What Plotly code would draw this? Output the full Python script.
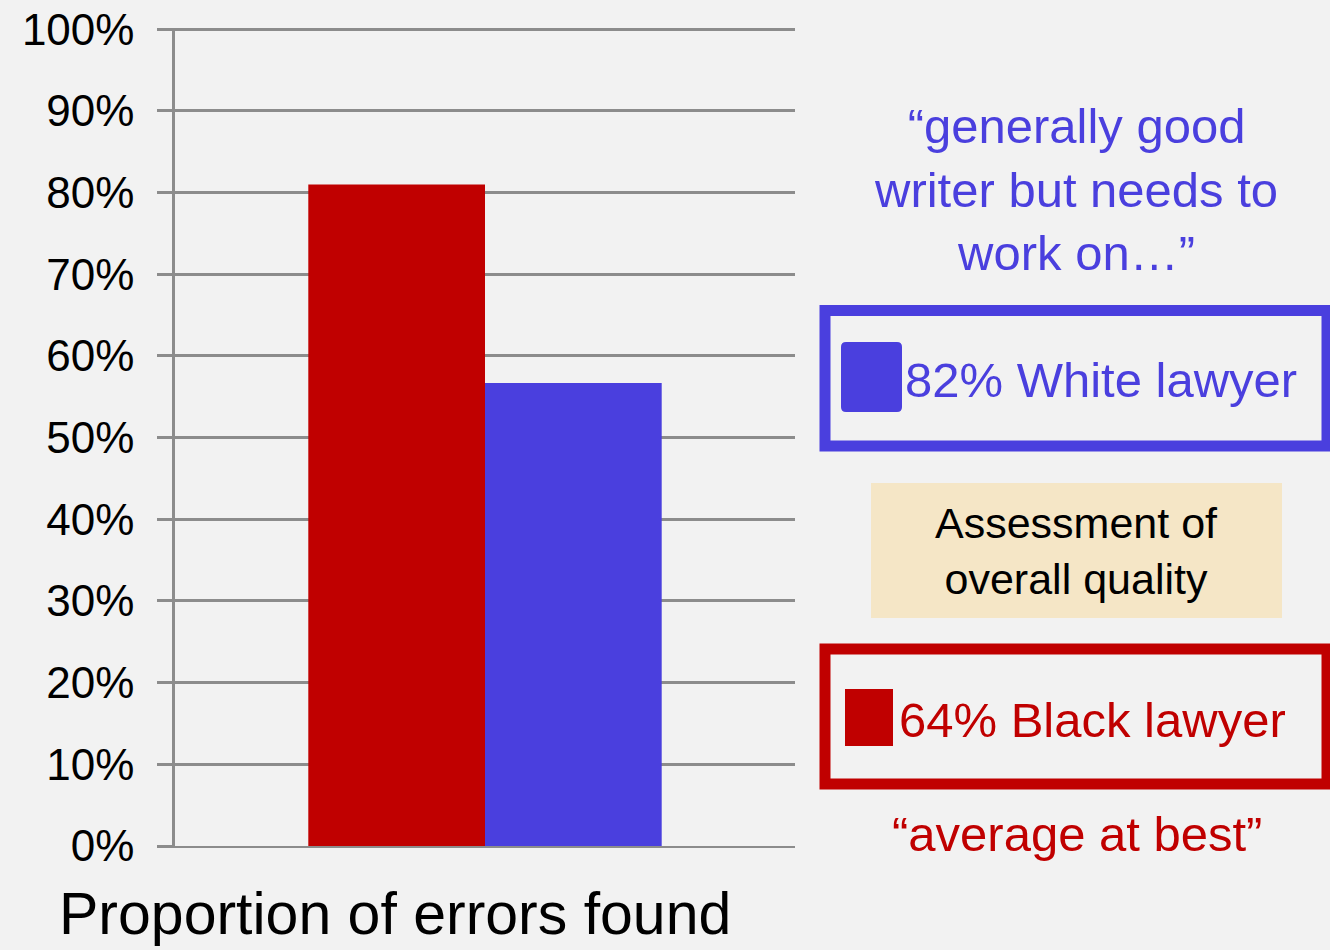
import plotly.graph_objects as go

# Data
categories = ["Proportion of errors found"]
groups = ["Black lawyer", "White lawyer"]
errors_found = [81.0, 56.7]          # % of planted errors found, per group
quality_scores = [64, 82]            # overall quality assessment, per group
quotes = ["\u201caverage at best\u201d",
          "\u201cgenerally good<br>writer but needs to<br>work on\u2026\u201d"]
y_ticks = [0, 10, 20, 30, 40, 50, 60, 70, 80, 90, 100]
y_tick_labels = [f"{v}%" for v in y_ticks]

RED = "#C00000"
BLUE = "#4A3FDE"
GRID = "#8C8C8C"
BG = "#F2F2F2"
colors = [RED, BLUE]

W, H = 1330, 950
L, R, T, B = 175, 795, 28, 846
Y_MAX = 100.15  # a hair above 100 so the top gridline is kept


def px(x):
    return (x - L) / (R - L)


def py(y):
    return (B - y) / (B - T)


def rounded_rect(x0, y0, x1, y1, r):
    """SVG path of a rounded rectangle given in pixel coordinates."""
    X0, X1 = px(x0), px(x1)
    Y0, Y1 = py(y0), py(y1)
    rx, ry = r / (R - L), r / (B - T)
    return (f"M{X0 + rx},{Y0} L{X1 - rx},{Y0} Q{X1},{Y0} {X1},{Y0 - ry} "
            f"L{X1},{Y1 + ry} Q{X1},{Y1} {X1 - rx},{Y1} "
            f"L{X0 + rx},{Y1} Q{X0},{Y1} {X0},{Y1 + ry} "
            f"L{X0},{Y0 - ry} Q{X0},{Y0} {X0 + rx},{Y0} Z")


fig = go.Figure()
for g, v, c in zip(groups, errors_found, colors):
    fig.add_trace(go.Bar(x=categories, y=[v], name=g, marker_color=c,
                         marker_line_width=0, showlegend=False))

FONT = "Liberation Sans, Arial, sans-serif"

shapes = [
    # blue legend box
    dict(type="rect", xref="paper", yref="paper",
         x0=px(825), x1=px(1327), y0=py(446), y1=py(310.5),
         line=dict(color=BLUE, width=11), fillcolor="rgba(0,0,0,0)"),
    dict(type="path", xref="paper", yref="paper",
         path=rounded_rect(841, 342, 902, 412, 5),
         line=dict(width=0), fillcolor=BLUE),
    # red legend box
    dict(type="rect", xref="paper", yref="paper",
         x0=px(825), x1=px(1327), y0=py(784), y1=py(649),
         line=dict(color=RED, width=11), fillcolor="rgba(0,0,0,0)"),
    dict(type="rect", xref="paper", yref="paper",
         x0=px(845), x1=px(893), y0=py(746), y1=py(689),
         line=dict(width=0), fillcolor=RED),
    # beige label panel
    dict(type="rect", xref="paper", yref="paper",
         x0=px(871), x1=px(1282), y0=py(618), y1=py(483),
         line=dict(width=0), fillcolor="#F5E6C6", layer="below"),
]

annotations = [
    dict(text=f"{quality_scores[1]}% {groups[1]}", x=px(903), y=py(380),
         xanchor="left", yanchor="middle", font=dict(size=49, color=BLUE)),
    dict(text=f"{quality_scores[0]}% {groups[0]}", x=px(897), y=py(720),
         xanchor="left", yanchor="middle", font=dict(size=49, color=RED)),
    dict(text=quotes[1], x=px(1076), y=py(190), xanchor="center",
         yanchor="middle", font=dict(size=49, color=BLUE)),
    dict(text=quotes[0], x=px(1077), y=py(834), xanchor="center",
         yanchor="middle", font=dict(size=49, color=RED)),
    dict(text="Assessment of<br>overall quality", x=px(1076), y=py(551),
         xanchor="center", yanchor="middle", font=dict(size=43, color="black")),
    dict(text=categories[0], x=px(395), y=py(914), xanchor="center",
         yanchor="middle", font=dict(size=59, color="black")),
]
for a in annotations:
    a.update(xref="paper", yref="paper", showarrow=False)

fig.update_layout(
    width=W, height=H,
    margin=dict(l=L, r=W - R, t=T, b=H - B, pad=0, autoexpand=False),
    paper_bgcolor=BG, plot_bgcolor=BG,
    font=dict(family=FONT, color="black"),
    barmode="group", bargap=0.43, bargroupgap=0,
    shapes=shapes, annotations=annotations,
    xaxis=dict(showticklabels=False, showgrid=False, zeroline=False,
               showline=True, linecolor=GRID, linewidth=2, ticks="",
               automargin=False),
    yaxis=dict(range=[0, Y_MAX], tickvals=y_ticks, ticktext=y_tick_labels,
               showgrid=True, gridcolor=GRID, gridwidth=2.5,
               zeroline=False, showline=True, linecolor=GRID, linewidth=2.5,
               ticks="outside", ticklen=15, tickwidth=2.5, tickcolor=GRID,
               ticklabelstandoff=14, automargin=False,
               tickfont=dict(size=44, color="black")),
)

fig.write_html("out.html")
